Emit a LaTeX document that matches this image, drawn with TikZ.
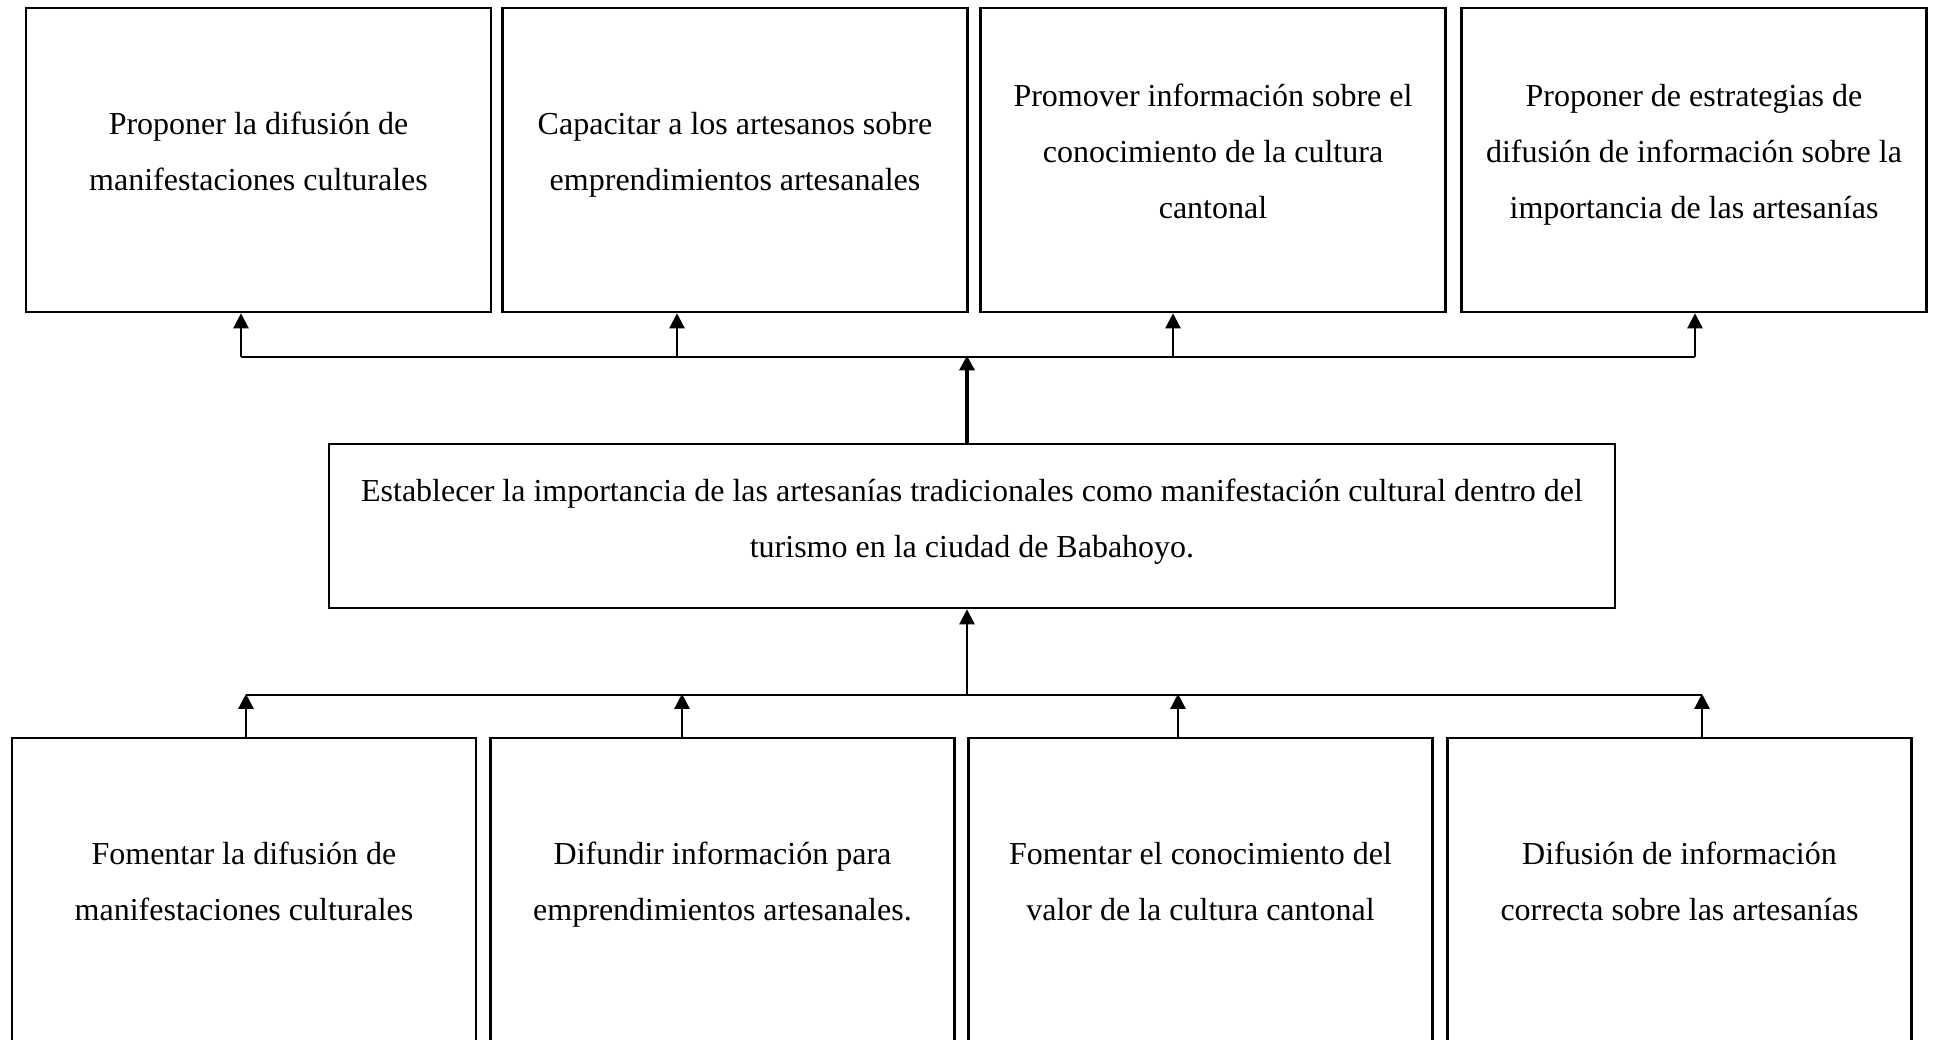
\documentclass[tikz,border=0pt]{standalone}
\usepackage{fontspec}
\setmainfont{Liberation Serif}
\usetikzlibrary{arrows.meta}
\begin{document}
\begin{tikzpicture}[x=1pt,y=-1pt,
  box/.style={draw=black,line width=2.6pt,rectangle,inner sep=0pt},
  topbox/.style={box,minimum width=465pt,minimum height=304pt},
  botbox/.style={box,minimum width=464pt,minimum height=308pt},
  txt/.style={inner sep=0pt,align=center,font=\fontsize{32}{56}\selectfont},
  conn/.style={line width=2.4pt},
  arr/.style={conn,-{Triangle[width=15pt,length=15pt]}},
  thickarr/.style={line width=4pt,-{Triangle[width=15pt,length=15pt]}}]
\useasboundingbox (0,0) rectangle (1938,1040);
\clip (0,0) rectangle (1938,1040);
\fill[white] (0,0) rectangle (1938,1040);
% top boxes
\node[topbox] (t1) at (258.5,160) {};
\node[topbox] (t2) at (735,160) {};
\node[topbox] (t3) at (1213,160) {};
\node[topbox] (t4) at (1694,160) {};
\node[txt,yshift=8.5pt] (t1x) at (t1.center) {\strut Proponer la difusión de\\\strut manifestaciones culturales};
\node[txt,yshift=8.5pt] (t2x) at (t2.center) {\strut Capacitar a los artesanos sobre\\\strut emprendimientos artesanales};
\node[txt,yshift=8.5pt] (t3x) at (t3.center) {\strut Promover información sobre el\\\strut conocimiento de la cultura\\\strut cantonal};
\node[txt,yshift=8.5pt] (t4x) at (t4.center) {\strut Proponer de estrategias de\\\strut difusión de información sobre la\\\strut importancia de las artesanías};
% middle box
\node[box,minimum width=1286pt,minimum height=164pt] (m) at (972,526) {};
\node[txt,yshift=7.5pt] (mx) at (m.center)
  {\strut Establecer la importancia de las artesanías tradicionales como manifestación cultural dentro del\\\strut turismo en la ciudad de Babahoyo.};
% bottom boxes
\node[botbox] (b1) at (244,892) {};
\node[botbox] (b2) at (722.5,892) {};
\node[botbox] (b3) at (1200.5,892) {};
\node[botbox] (b4) at (1679.5,892) {};
\node[txt,yshift=10.5pt] (b1x) at (b1.center) {\strut Fomentar la difusión de\\\strut manifestaciones culturales};
\node[txt,yshift=10.5pt] (b2x) at (b2.center) {\strut Difundir información para\\\strut emprendimientos artesanales.};
\node[txt,yshift=10.5pt] (b3x) at (b3.center) {\strut Fomentar el conocimiento del\\\strut valor de la cultura cantonal};
\node[txt,yshift=10.5pt] (b4x) at (b4.center) {\strut Difusión de información\\\strut correcta sobre las artesanías};
% top bus
\coordinate (tb1) at (241,357);
\coordinate (tb2) at (677,357);
\coordinate (tb3) at (1173,357);
\coordinate (tb4) at (1695,357);
\coordinate (tbc) at (967,357);
\draw[conn] (tb1) -- (tb4);
\draw[arr] (tb1) -- (tb1 |- t1.south);
\draw[arr] (tb2) -- (tb2 |- t2.south);
\draw[arr] (tb3) -- (tb3 |- t3.south);
\draw[arr] (tb4) -- (tb4 |- t4.south);
\draw[thickarr] (tbc |- m.north) -- ([yshift=1.5pt]tbc);
% bottom bus
\coordinate (bb1) at (246,695);
\coordinate (bb2) at (682,695);
\coordinate (bb3) at (1178,695);
\coordinate (bb4) at (1702,695);
\coordinate (bbc) at (967,695);
\draw[conn] (bb1) -- (bb4);
\draw[arr] (bbc) -- (bbc |- m.south);
\draw[arr] (bb1 |- b1.north) -- ([yshift=1.2pt]bb1);
\draw[arr] (bb2 |- b2.north) -- ([yshift=1.2pt]bb2);
\draw[arr] (bb3 |- b3.north) -- ([yshift=1.2pt]bb3);
\draw[arr] (bb4 |- b4.north) -- ([yshift=1.2pt]bb4);
\end{tikzpicture}
\end{document}
